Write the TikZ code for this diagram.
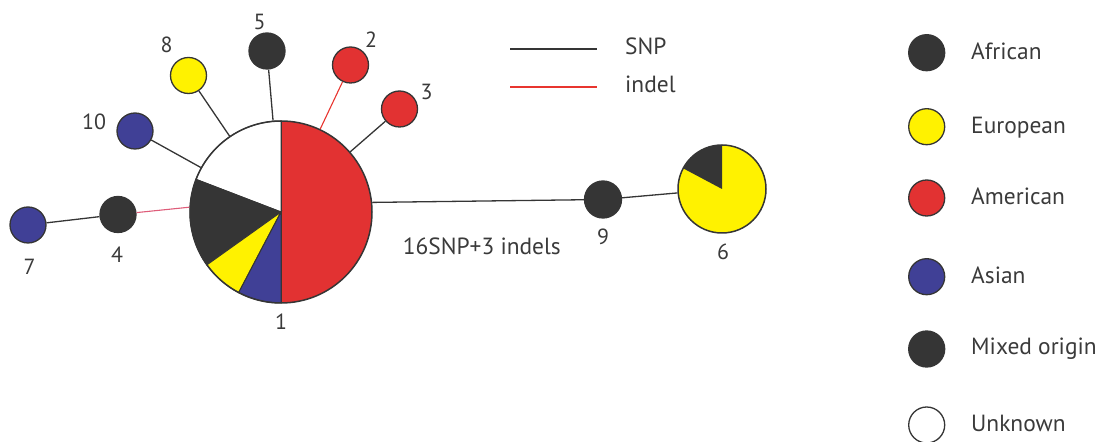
\documentclass[tikz,border=0pt]{standalone}
\usepackage{fontspec}
\setmainfont{PT Sans}
\definecolor{dk}{HTML}{353535}
\definecolor{yl}{HTML}{FFF200}
\definecolor{rd}{HTML}{E23232}
\definecolor{bl}{HTML}{404096}
\definecolor{txt}{HTML}{3A3A3A}
\definecolor{indelred}{HTML}{E8352F}
\definecolor{indelpink}{HTML}{DE5C79}
\tikzset{
  hap/.style={circle, draw=dk, line width=1.3bp, minimum size=36bp, inner sep=0pt},
  bigpie/.style={circle, draw=dk, line width=1.5bp, inner sep=0pt},
  slice/.style={draw=dk, line width=1bp},
  snp/.style={draw=dk, line width=1.3bp},
  indel/.style={draw=indelred, line width=1.1bp},
  indelb/.style={draw=indelpink, line width=1.1bp},
  lbl/.style={text=txt, font=\fontsize{22}{26}\selectfont, inner sep=0pt},
  lgd/.style={text=txt, font=\fontsize{23.5}{28}\selectfont, inner sep=0pt, anchor=base west}
}
\begin{document}
\begin{tikzpicture}[x=1bp,y=1bp]
\useasboundingbox (0,0) rectangle (1108,-442);
% big pie 1
\fill[rd] (281,-212) -- ++(-90:91) arc[start angle=-90,end angle=90,radius=91] -- cycle;
\filldraw[fill=white,slice] (281,-212) -- ++(90:91) arc[start angle=90,end angle=159,radius=91] -- cycle;
\filldraw[fill=dk,slice] (281,-212) -- ++(159:91) arc[start angle=159,end angle=215.5,radius=91] -- cycle;
\filldraw[fill=yl,slice] (281,-212) -- ++(215.5:91) arc[start angle=215.5,end angle=242.3,radius=91] -- cycle;
\filldraw[fill=bl,slice] (281,-212) -- ++(242.3:91) arc[start angle=242.3,end angle=270,radius=91] -- cycle;
\draw[slice] (281,-121) -- (281,-303);
\node[bigpie, minimum size=182bp] (P1) at (281,-212) {};
% pie 6
\fill[yl] (722,-189) circle[radius=44];
\fill[dk] (722,-189) -- ++(90:44) arc[start angle=90,end angle=152,radius=44] -- cycle;
\node[bigpie, minimum size=88bp] (P6) at (722,-189) {};
% haplotypes
\node[hap, fill=dk] (n5) at (267,-51) {};
\node[hap, fill=yl] (n8) at (188.5,-75.5) {};
\node[hap, fill=rd] (n2) at (350.5,-65) {};
\node[hap, fill=rd] (n3) at (399.5,-109) {};
\node[hap, fill=bl] (n10) at (135,-131) {};
\node[hap, fill=dk] (n4) at (118,-214.5) {};
\node[hap, fill=bl] (n7) at (28,-225) {};
\node[hap, fill=dk, minimum size=37bp] (n9) at (603,-199.5) {};
% connectors
\draw[snp] (n5) -- (P1);
\draw[snp] (n8) -- (P1);
\draw[indel] (n2) -- (P1);
\draw[snp] (n3) -- (P1);
\draw[snp] (n10) -- (P1);
\draw[indelb] (n4) -- (P1.177);
\draw[snp] (n7) -- (n4);
\draw[snp] (P1.6.5) -- (n9);
\draw[snp] (n9) -- (P6);
% labels
\node[lbl] (t5) at (259.5,-22) {5};
\node[lbl] (t8) at (166.5,-45) {8};
\node[lbl] (t2) at (371,-40) {2};
\node[lbl] (t3) at (426.5,-91.5) {3};
\node[lbl] (t10) at (94,-121.5) {10};
\node[lbl] (t7) at (29.5,-267) {7};
\node[lbl] (t4) at (117,-254.5) {4};
\node[lbl] (t9) at (603,-236.5) {9};
\node[lbl] (t6) at (723,-252) {6};
\node[lbl] (t1) at (281,-322) {1};
\node[lgd] (t16) at (402.7,-255) {16SNP+3 indels};
% legend lines
\coordinate (s1) at (510,-49);
\coordinate (s2) at (597,-49);
\coordinate (i1) at (510,-87);
\coordinate (i2) at (597,-87);
\draw[snp] (s1) -- (s2);
\draw[draw=indelred, line width=1.3bp] (i1) -- (i2);
\node[lgd] (tsnp) at (625,-55) {SNP};
\node[lgd] (tindel) at (625,-92.5) {indel};
% legend circles
\node[hap, fill=dk] (lA) at (926.7,-52.7) {};
\node[hap, fill=yl] (lE) at (926.7,-126.7) {};
\node[hap, fill=rd] (lAm) at (926.7,-198) {};
\node[hap, fill=bl] (lAs) at (926.7,-276.7) {};
\node[hap, fill=dk] (lM) at (926.7,-349) {};
\node[hap, fill=white] (lU) at (926.7,-425) {};
\node[lgd] (tA) at (971,-60) {African};
\node[lgd] (tE) at (971,-134) {European};
\node[lgd] (tAm) at (971,-205) {American};
\node[lgd] (tAs) at (971,-284) {Asian};
\node[lgd] (tM) at (971,-355) {Mixed origin};
\node[lgd] (tU) at (971,-431.7) {Unknown};
\end{tikzpicture}
\end{document}
